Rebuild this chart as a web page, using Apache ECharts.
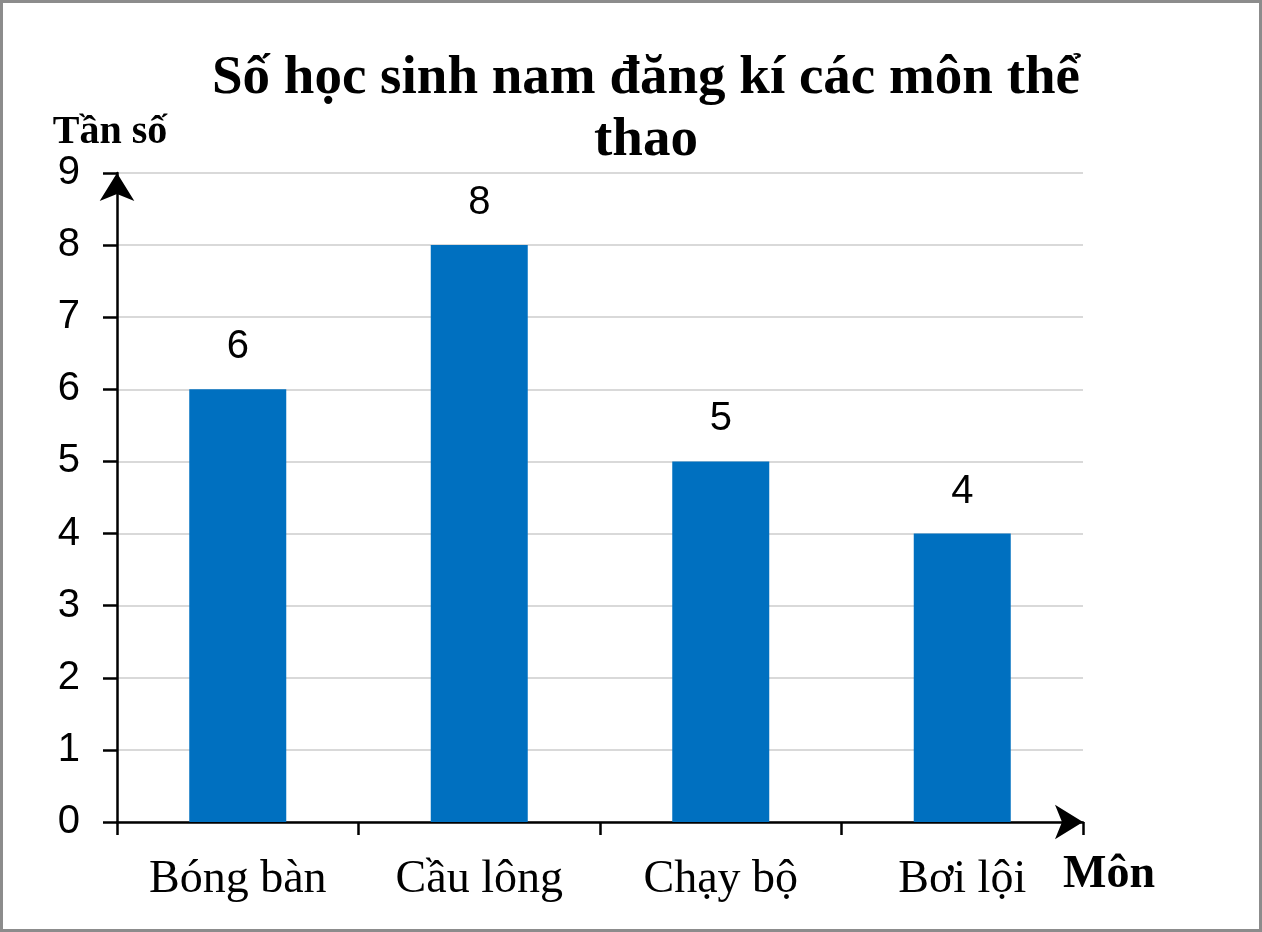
<!DOCTYPE html>
<html>
<head>
<meta charset="utf-8">
<script src="https://cdn.jsdelivr.net/npm/echarts@6/dist/echarts.min.js"></script>
<style>
html,body{margin:0;padding:0;background:#fff;}
#wrap{position:relative;width:1262px;height:932px;}
#chart{width:1262px;height:932px;}
#frame{position:absolute;left:0;top:0;width:1262px;height:932px;box-sizing:border-box;border:3px solid #8c8c8c;pointer-events:none;}
</style>
</head>
<body>
<div id="wrap"><div id="chart"></div><div id="frame"></div></div>
<script>
const titleText = 'Số học sinh nam đăng kí các môn thể\nthao';
const categories = ['Bóng bàn', 'Cầu lông', 'Chạy bộ', 'Bơi lội'];
const values = [6, 8, 5, 4];
const yAxisName = 'Tần số';
const xAxisName = 'Môn';

const chart = echarts.init(document.getElementById('chart'), null, {renderer: 'canvas'});
chart.setOption({
  animation: false,
  backgroundColor: '#ffffff',
  title: {
    text: titleText,
    left: 641,
    textAlign: 'center',
    top: 43,
    textStyle: {fontFamily: 'Liberation Serif', fontWeight: 'bold', fontSize: 55, lineHeight: 62, color: '#000'}
  },
  grid: {left: 117, right: 179, top: 173, bottom: 110, containLabel: false},
  xAxis: {
    type: 'category',
    data: categories,
    boundaryGap: true,
    name: '\n' + xAxisName,
    nameLocation: 'end',
    nameGap: -20,
    nameTextStyle: {fontFamily: 'Liberation Serif', fontWeight: 'bold', fontSize: 46, lineHeight: 106, color: '#000', align: 'left', verticalAlign: 'middle'},
    axisLine: {show: true, symbol: ['none', 'arrow'], symbolSize: [26, 28], lineStyle: {color: '#000', width: 2.5}},
    axisTick: {show: true, length: 13, lineStyle: {color: '#000', width: 2.5}},
    axisLabel: {fontFamily: 'Liberation Serif', fontSize: 46, color: '#000', margin: 35},
    splitLine: {show: false}
  },
  yAxis: {
    type: 'value',
    min: 0,
    max: 9,
    interval: 1,
    name: yAxisName,
    nameLocation: 'end',
    nameGap: 15,
    nameTextStyle: {fontFamily: 'Liberation Serif', fontWeight: 'bold', fontSize: 40, color: '#000', padding: [0, 14, 0, 0]},
    axisLine: {show: true, symbol: ['none', 'arrow'], symbolSize: [26, 28], lineStyle: {color: '#000', width: 2.5}},
    axisTick: {show: true, length: 14, lineStyle: {color: '#000', width: 2.5}},
    axisLabel: {fontFamily: 'Liberation Sans', fontSize: 40, color: '#000', margin: 37},
    splitLine: {show: true, lineStyle: {color: '#d9d9d9', width: 2}}
  },
  series: [{
    type: 'bar',
    data: values,
    barWidth: 97,
    itemStyle: {color: '#0070C0'},
    label: {show: true, position: 'top', distance: 22, fontFamily: 'Liberation Sans', fontSize: 40, color: '#000'}
  }]
});
</script>
</body>
</html>
